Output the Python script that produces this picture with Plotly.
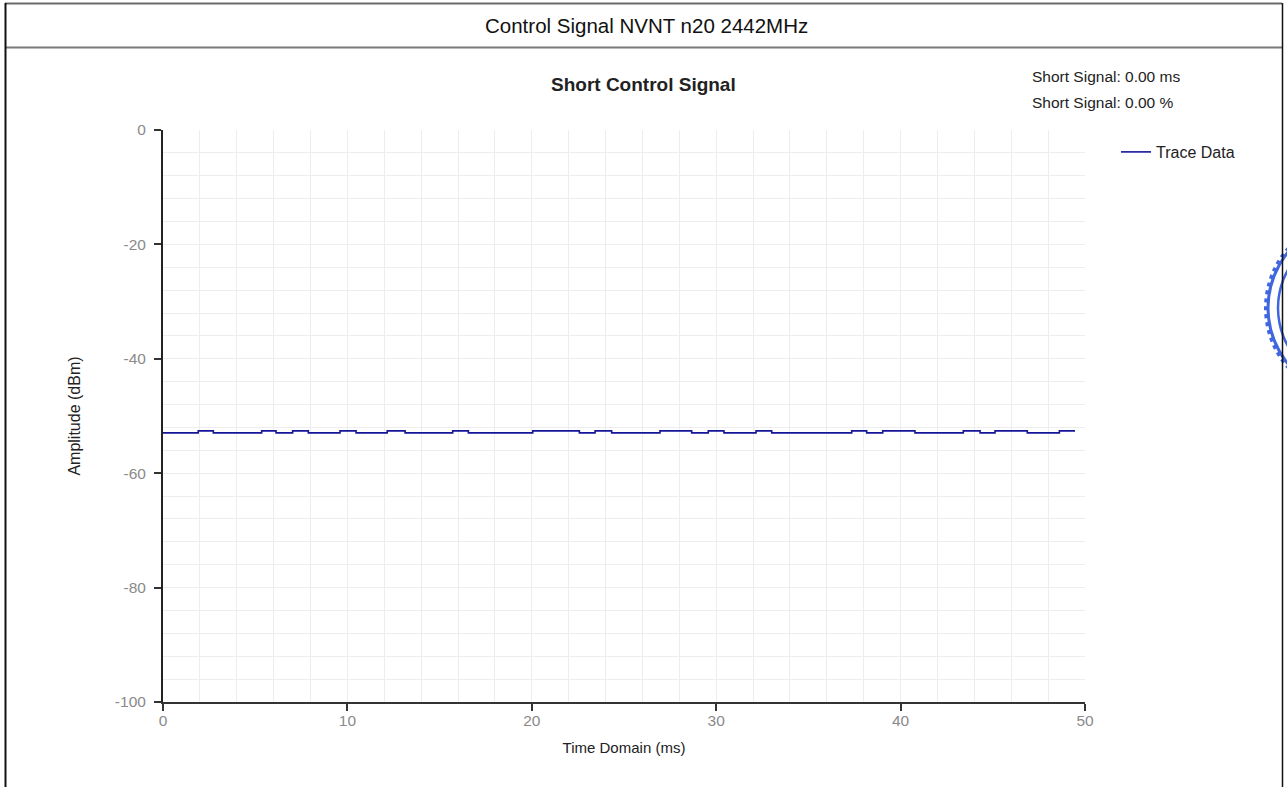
import plotly.graph_objects as go

# Trace data: step edges of the measured amplitude (time in ms, level in dBm)
edge_ms = [0.0, 1.91, 2.73, 5.35, 6.13, 7.03, 7.88, 9.60, 10.47, 12.16, 13.13,
           15.71, 16.56, 20.05, 22.58, 23.43, 24.33, 26.95, 28.67, 29.57, 30.42,
           32.16, 33.01, 37.35, 38.16, 39.03, 40.78, 43.40, 44.31, 45.12, 46.87,
           48.61, 49.46]
edge_dbm = [-52.95, -52.6, -52.95, -52.6, -52.95, -52.6, -52.95, -52.6, -52.95,
            -52.6, -52.95, -52.6, -52.95, -52.6, -52.95, -52.6, -52.95, -52.6,
            -52.95, -52.6, -52.95, -52.6, -52.95, -52.6, -52.95, -52.6, -52.95,
            -52.6, -52.95, -52.6, -52.95, -52.6, -52.6]

x_ticks = [0, 10, 20, 30, 40, 50]
x_tick_text = ["0", "10", "20", "30", "40", "50"]
y_ticks = [0, -20, -40, -60, -80, -100]
y_tick_text = ["0", "-20", "-40", "-60", "-80", "-100"]

header_text = "Control Signal NVNT n20 2442MHz"
chart_title = "Short Control Signal"
info_lines = ["Short Signal: 0.00 ms", "Short Signal: 0.00 %"]

W, H = 1287, 787
L, R, T, B = 163, 1085, 130, 702  # plot area in pixels


def px(x):
    return (x - L) / (R - L)


def py(y):
    return (B - y) / (B - T)


FONT = "Liberation Sans, Arial, sans-serif"

fig = go.Figure()
fig.add_trace(go.Scatter(
    x=edge_ms, y=edge_dbm, mode="lines", line_shape="hv",
    line=dict(color="#15159a", width=1.6), name="Trace Data",
))

grid_c = "#ededed"
fig.update_xaxes(
    range=[0, 50], tickvals=x_ticks, ticktext=x_tick_text,
    showline=True, linecolor="#333333", linewidth=2,
    ticks="outside", ticklen=7, tickcolor="#333333", tickwidth=1.5,
    tickfont=dict(family=FONT, size=15.5, color="#8a8a8a"),
    ticklabelstandoff=-4,
    showgrid=True, gridcolor=grid_c, gridwidth=1, zeroline=False,
    minor=dict(dtick=2, showgrid=True, gridcolor=grid_c, gridwidth=1),
    title=dict(text="Time Domain (ms)", font=dict(family=FONT, size=15, color="#222222"),
               standoff=15),
)
fig.update_yaxes(
    range=[-100, 0], tickvals=y_ticks, ticktext=y_tick_text,
    showline=True, linecolor="#222222", linewidth=2,
    ticks="outside", ticklen=7, tickcolor="#333333", tickwidth=1.5,
    tickfont=dict(family=FONT, size=15.5, color="#8a8a8a"),
    ticklabelstandoff=5,
    showgrid=True, gridcolor=grid_c, gridwidth=1, zeroline=False,
    minor=dict(dtick=4, showgrid=True, gridcolor=grid_c, gridwidth=1),
    title=dict(text="Amplitude (dBm)", font=dict(family=FONT, size=16, color="#222222"),
               standoff=30),
)

P = dict(xref="paper", yref="paper")
SEAL = "#4066e0"
shapes = [
    # outer frame and header row
    dict(type="line", x0=px(5), x1=px(1282), y0=py(3.5), y1=py(3.5),
         line=dict(color="#6a6a6a", width=2), **P),
    dict(type="line", x0=px(5), x1=px(1282), y0=py(47.5), y1=py(47.5),
         line=dict(color="#7a7a7a", width=2), **P),
    dict(type="line", x0=px(5.5), x1=px(5.5), y0=py(3), y1=py(800),
         line=dict(color="#111111", width=2), **P),
    dict(type="line", x0=px(1282.5), x1=px(1282.5), y0=py(3), y1=py(800),
         line=dict(color="#111111", width=1.5), **P),
    # seal at the right edge: toothed outer ring and thin inner ring
    dict(type="circle", x0=px(1356 - 88), x1=px(1356 + 88), y0=py(308 - 88), y1=py(308 + 88),
         line=dict(color=SEAL, width=3), layer="below", **P),
    dict(type="circle", x0=px(1356 - 90), x1=px(1356 + 90), y0=py(308 - 90), y1=py(308 + 90),
         line=dict(color=SEAL, width=4, dash="dot"), layer="below", **P),
    dict(type="circle", x0=px(1356 - 78), x1=px(1356 + 78), y0=py(308 - 78), y1=py(308 + 78),
         line=dict(color=SEAL, width=2.5), layer="below", **P),
]

annotations = [
    dict(text=header_text, x=px(646), y=py(25), xanchor="center", yanchor="middle",
         showarrow=False, font=dict(family=FONT, size=20.5, color="#111111"), **P),
    dict(text="<b>" + chart_title + "</b>", x=px(643), y=py(84), xanchor="center",
         yanchor="middle", showarrow=False,
         font=dict(family=FONT, size=19, color="#222222"), **P),
    dict(text=info_lines[0], x=px(1030), y=py(77), xanchor="left", yanchor="middle",
         showarrow=False, font=dict(family=FONT, size=15.5, color="#222222"), **P),
    dict(text=info_lines[1], x=px(1030), y=py(102), xanchor="left", yanchor="middle",
         showarrow=False, font=dict(family=FONT, size=15.5, color="#222222"), **P),
]

fig.update_layout(
    width=W, height=H,
    margin=dict(l=L, r=W - R, t=T, b=H - B, autoexpand=False),
    paper_bgcolor="white", plot_bgcolor="white",
    showlegend=True,
    legend=dict(x=px(1116), y=py(135), xanchor="left", yanchor="top",
                font=dict(family=FONT, size=16, color="#222222"),
                bgcolor="rgba(0,0,0,0)", itemwidth=30),
    shapes=shapes, annotations=annotations,
)

fig.write_html("out.html")
